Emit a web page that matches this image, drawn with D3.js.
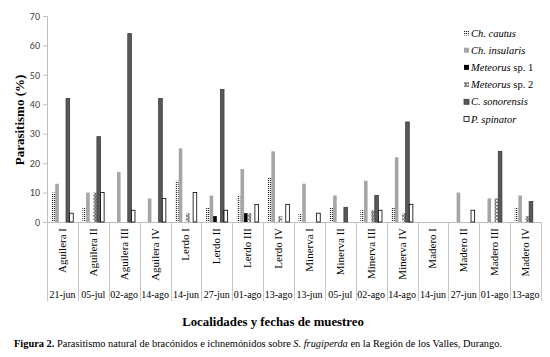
<!DOCTYPE html>
<html>
<head>
<meta charset="utf-8">
<script src="https://cdn.jsdelivr.net/npm/d3@7"></script>
<style>
    body { margin: 0; background: #fff; }
    svg { display: block; }
</style>
</head>
<body>
<div id="chart"></div>
<script>
// Categories (locality) and sampling dates
const localities = ["Aguilera I", "Aguilera II", "Aguilera III", "Aguilera IV",
    "Lerdo I", "Lerdo II", "Lerdo III", "Lerdo IV",
    "Minerva I", "Minerva II", "Minerva III", "Minerva IV",
    "Madero I", "Madero II", "Madero III", "Madero IV"];
const dates = ["21-jun", "05-jul", "02-ago", "14-ago",
    "14-jun", "27-jun", "01-ago", "13-ago",
    "13-jun", "05-jul", "02-ago", "14-ago",
    "14-jun", "27-jun", "01-ago", "13-ago"];

// Parasitism (%) per species, one value per locality
const chCautus     = [10, 5, 0, 0, 14, 5, 9, 15, 3, 5, 4, 5, 0, 0, 0, 5];
const chInsularis  = [13, 10, 17, 8, 25, 9, 18, 24, 13, 9, 14, 22, 0, 10, 8, 9];
const meteorusSp1  = [0, 0, 0, 0, 0, 2, 3, 0, 0, 0, 0, 0, 0, 0, 0, 0];
const meteorusSp2  = [0, 10, 0, 0, 3, 0, 3, 2, 0, 0, 4, 3, 0, 0, 8, 2];
const cSonorensis  = [42, 29, 64, 42, 0, 45, 0, 0, 0, 5, 9, 34, 0, 0, 24, 7];
const pSpinator    = [3, 10, 4, 8, 10, 4, 6, 6, 3, 0, 4, 6, 0, 4, 0, 0];

const yTicks = [0, 10, 20, 30, 40, 50, 60, 70];

const series = [
    { key: "cautus", values: chCautus },
    { key: "insularis", values: chInsularis },
    { key: "met1", values: meteorusSp1 },
    { key: "met2", values: meteorusSp2 },
    { key: "sonorensis", values: cSonorensis },
    { key: "spinator", values: pSpinator }
];

// legend labels: [italic part, plain part]
const legendLabels = [
    ["Ch. cautus", ""],
    ["Ch. insularis", ""],
    ["Meteorus", " sp. 1"],
    ["Meteorus", " sp. 2"],
    ["C. sonorensis", ""],
    ["P. spinator", ""]
];

const W = 550, H = 357;
const plot = { left: 47, right: 541, top: 16, bottom: 222 };
const serif = "'Liberation Serif', 'Times New Roman', serif";

const svg = d3.select("#chart").append("svg")
    .attr("width", W)
    .attr("height", H);

// patterns
const defs = svg.append("defs");
const dots = defs.append("pattern")
    .attr("id", "dots")
    .attr("patternUnits", "userSpaceOnUse")
    .attr("width", 2)
    .attr("height", 2);
dots.append("rect").attr("width", 2).attr("height", 2).attr("fill", "#fff");
dots.append("rect").attr("width", 1.2).attr("height", 1).attr("fill", "#222");

const rings = defs.append("pattern")
    .attr("id", "rings")
    .attr("patternUnits", "userSpaceOnUse")
    .attr("width", 3.6)
    .attr("height", 3.4);
rings.append("rect").attr("width", 3.6).attr("height", 3.4).attr("fill", "#fff");
rings.append("circle")
    .attr("cx", 1.8).attr("cy", 1.7).attr("r", 1.2)
    .attr("fill", "none").attr("stroke", "#222").attr("stroke-width", 0.8);

const styles = {
    cautus:     { fill: "url(#dots)", stroke: "none" },
    insularis:  { fill: "#a6a6a6", stroke: "none" },
    met1:       { fill: "#000", stroke: "none" },
    met2:       { fill: "url(#rings)", stroke: "none" },
    sonorensis: { fill: "#595959", stroke: "#3a3a3a" },
    spinator:   { fill: "#fff", stroke: "#000" }
};

// Scales
const x = d3.scaleBand()
    .domain(localities)
    .range([plot.left, plot.right]);

const bw = x.bandwidth();
const xInner = d3.scaleBand()
    .domain(series.map(s => s.key))
    .range([bw * 0.15, bw * 0.85]);

const y = d3.scaleLinear()
    .domain([0, 70])
    .range([plot.bottom, plot.top]);

// Y axis
const yAxis = svg.append("g")
    .attr("transform", `translate(${plot.left},0)`)
    .call(d3.axisLeft(y).tickValues(yTicks).tickSize(4).tickPadding(3));
yAxis.select(".domain").attr("stroke", "#bfbfbf");
yAxis.selectAll(".tick line").attr("stroke", "#bfbfbf");
yAxis.selectAll(".tick text")
    .attr("font-family", "Carlito, 'Liberation Sans', Arial, sans-serif")
    .attr("font-size", "10px")
    .attr("fill", "#404040");

// X axis line
svg.append("line")
    .attr("x1", plot.left).attr("x2", plot.right)
    .attr("y1", plot.bottom + 0.5).attr("y2", plot.bottom + 0.5)
    .attr("stroke", "#bfbfbf");

// separators between categories
const edges = localities.map(d => x(d)).concat([plot.right]);
svg.append("g").selectAll("line")
    .data(edges)
    .join("line")
    .attr("x1", d => Math.round(d) + 0.5)
    .attr("x2", d => Math.round(d) + 0.5)
    .attr("y1", plot.bottom)
    .attr("y2", 301)
    .attr("stroke", "#c8c8c8");

// Bars
const groups = svg.append("g").selectAll("g")
    .data(series)
    .join("g");

groups.selectAll("rect")
    .data(s => s.values.map((v, i) => ({ key: s.key, v: v, loc: localities[i] })).filter(d => d.v > 0))
    .join("rect")
    .attr("x", d => x(d.loc) + xInner(d.key))
    .attr("y", d => y(d.v))
    .attr("width", xInner.bandwidth())
    .attr("height", d => y(0) - y(d.v))
    .attr("fill", d => styles[d.key].fill)
    .attr("stroke", d => styles[d.key].stroke)
    .attr("stroke-width", 0.8);

// Category labels (rotated)
svg.append("g").selectAll("text")
    .data(localities)
    .join("text")
    .attr("transform", d => `translate(${x(d) + bw / 2 + 3.5},228) rotate(-90)`)
    .attr("text-anchor", "end")
    .attr("font-family", serif)
    .attr("font-size", "11px")
    .attr("fill", "#000")
    .text(d => d);

// Date labels
svg.append("g").selectAll("text")
    .data(dates)
    .join("text")
    .attr("x", (d, i) => x(localities[i]) + bw / 2)
    .attr("y", 298)
    .attr("text-anchor", "middle")
    .attr("font-family", serif)
    .attr("font-size", "10px")
    .attr("fill", "#000")
    .text(d => d);

// Y axis title
svg.append("text")
    .attr("transform", "translate(24,120) rotate(-90)")
    .attr("text-anchor", "middle")
    .attr("font-family", serif)
    .attr("font-weight", "bold")
    .attr("font-size", "13px")
    .text("Parasitismo (%)");

// X axis title
svg.append("text")
    .attr("x", 273)
    .attr("y", 326)
    .attr("text-anchor", "middle")
    .attr("font-family", serif)
    .attr("font-weight", "bold")
    .attr("font-size", "12.8px")
    .text("Localidades y fechas de muestreo");

// Legend
const legend = svg.append("g").selectAll("g")
    .data(series)
    .join("g")
    .attr("transform", (d, i) => `translate(464,${33 + i * 17.2})`);

legend.append("rect")
    .attr("x", 0).attr("y", -2.5)
    .attr("width", 5).attr("height", 5)
    .attr("fill", d => styles[d.key].fill)
    .attr("stroke", d => d.key === "spinator" ? "#000" : (d.key === "sonorensis" ? "#3a3a3a" : "none"))
    .attr("stroke-width", 0.8);

const legendText = legend.append("text")
    .attr("x", 7)
    .attr("y", 3.5)
    .attr("font-family", serif)
    .attr("font-size", "10.5px");
legendText.append("tspan")
    .attr("font-style", "italic")
    .text((d, i) => legendLabels[i][0]);
legendText.append("tspan")
    .text((d, i) => legendLabels[i][1]);

// Caption
const caption = svg.append("text")
    .attr("x", 14)
    .attr("y", 347)
    .attr("font-family", serif)
    .attr("font-size", "10.4px");
caption.append("tspan").attr("font-weight", "bold").text("Figura 2.");
caption.append("tspan").text(" Parasitismo natural de bracónidos e ichnemónidos sobre ");
caption.append("tspan").attr("font-style", "italic").text("S. frugiperda");
caption.append("tspan").text(" en la Región de los Valles, Durango.");
</script>
</body>
</html>
